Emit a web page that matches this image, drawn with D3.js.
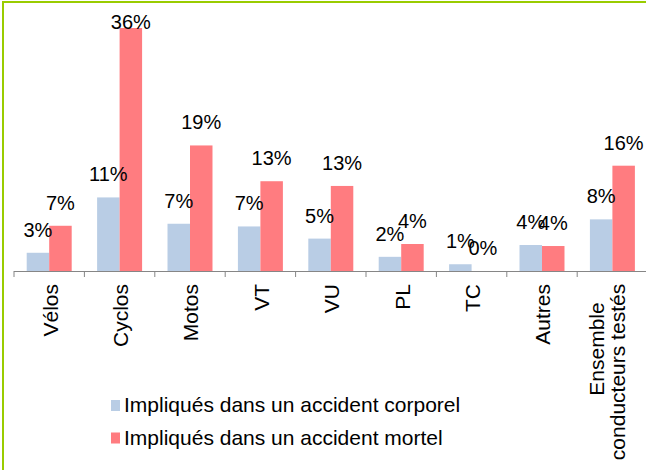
<!DOCTYPE html>
<html>
<head>
<meta charset="utf-8">
<script src="https://cdn.jsdelivr.net/npm/d3@7"></script>
<style>
  body { margin: 0; background: #fff; }
  svg { display: block; font-family: "Liberation Sans", Arial, sans-serif; }
</style>
</head>
<body>
<script>
// categories and the two series (in %)
var categories = ["Vélos", "Cyclos", "Motos", "VT", "VU", "PL", "TC", "Autres", "Ensemble\nconducteurs testés"];
var corporel = [2.7, 10.9, 7.0, 6.6, 4.8, 2.1, 1.0, 3.85, 7.65];
var mortel = [6.7, 36, 18.6, 13.3, 12.6, 4.0, 0, 3.7, 15.6];
var seriesNames = ["Impliqués dans un accident corporel", "Impliqués dans un accident mortel"];
var seriesColors = ["#b9cde5", "#ff7c80"];

var w = 646;
var h = 470;
var baseY = 271;

var svg = d3.select("body").append("svg").attr("width", w).attr("height", h);

// green frame (only top and left edges are in the picture)
svg.append("rect").attr("x", 3).attr("y", 2).attr("width", 700).attr("height", 500)
    .attr("fill", "none").attr("stroke", "#99cc00").attr("stroke-width", 2);

var x0 = d3.scaleBand().domain(categories).range([14, 647.6]).paddingInner(0).paddingOuter(0);
var x1 = d3.scaleBand().domain([0, 1]).range([0, x0.bandwidth()]).paddingInner(0).paddingOuter(0.565);
var y = d3.scaleLinear().domain([0, 36]).range([baseY, 28]);

var rows = categories.map(function (c, i) {
    return { cat: c, vals: [corporel[i], mortel[i]] };
});

var groups = svg.selectAll(".cat").data(rows).enter().append("g")
    .attr("class", "cat")
    .attr("transform", function (d) { return "translate(" + x0(d.cat) + ",0)"; });

groups.selectAll("rect").data(function (d) { return d.vals; }).enter().append("rect")
    .attr("x", function (d, i) { return x1(i); })
    .attr("y", function (d) { return y(d); })
    .attr("width", x1.bandwidth())
    .attr("height", function (d) { return baseY - y(d); })
    .attr("fill", function (d, i) { return seriesColors[i]; });

// value labels above the bars (kept inside the plot at the top)
groups.selectAll(".lbl").data(function (d) { return d.vals; }).enter().append("text")
    .attr("class", "lbl")
    .attr("x", function (d, i) { return x1(i) + x1.bandwidth() / 2; })
    .attr("y", function (d) { return Math.max(y(d) - 16, 29); })
    .attr("text-anchor", "middle")
    .attr("font-size", 20)
    .attr("fill", "#000")
    .text(function (d) { return Math.round(d) + "%"; });

// category axis
var xAxis = d3.axisBottom(x0).tickSize(6).tickFormat("");
var axisG = svg.append("g").attr("transform", "translate(0," + baseY + ")").call(xAxis);
axisG.select(".domain").attr("stroke", "#868686").attr("d", "M14,0.5H647.6");
axisG.selectAll(".tick").remove();
axisG.selectAll(".edge").data(categories.concat(["end"])).enter().append("line")
    .attr("x1", function (d, i) { return 14 + i * x0.step(); })
    .attr("x2", function (d, i) { return 14 + i * x0.step(); })
    .attr("y1", 0).attr("y2", 6)
    .attr("stroke", "#868686");

// rotated category labels
svg.selectAll(".catlbl").data(categories).enter().append("g")
    .attr("class", "catlbl")
    .attr("transform", function (d) {
        return "translate(" + (x0(d) + x0.bandwidth() / 2) + ",284) rotate(-90)";
    })
    .each(function (d) {
        var lines = d.split("\n");
        var g = d3.select(this);
        if (lines.length == 1) {
            g.append("text").attr("text-anchor", "end").attr("dy", "0.4em")
                .attr("font-size", 21).text(d);
        } else {
            // two-line label: lines centred a bit apart, as in the picture
            g.append("text").attr("text-anchor", "middle").attr("x", -65).attr("dy", "-0.38em")
                .attr("font-size", 21).text(lines[0]);
            g.append("text").attr("text-anchor", "middle").attr("x", -88).attr("dy", "0.6em")
                .attr("font-size", 21).text(lines[1]);
        }
    });

// legend
var legend = svg.selectAll(".legend").data(seriesNames).enter().append("g")
    .attr("class", "legend")
    .attr("transform", function (d, i) { return "translate(111," + (400 + i * 32.5) + ")"; });
legend.append("rect").attr("width", 9).attr("height", 11)
    .attr("fill", function (d, i) { return seriesColors[i]; });
legend.append("text").attr("x", 13).attr("y", 12).attr("font-size", 21).text(function (d) { return d; });
</script>
</body>
</html>
